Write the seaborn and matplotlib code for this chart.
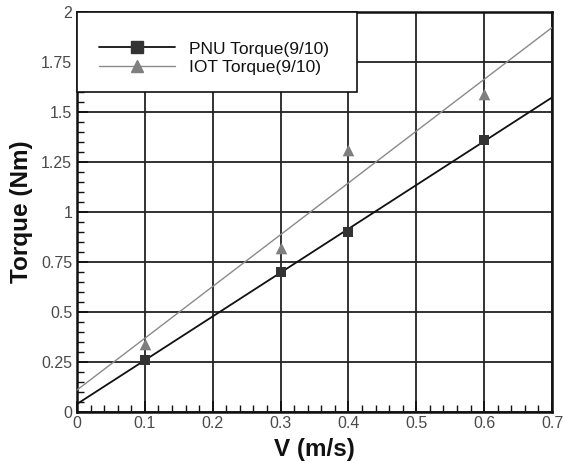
import numpy as np
import pandas as pd
import matplotlib
matplotlib.use("Agg")
import matplotlib.pyplot as plt
import seaborn as sns
from matplotlib.ticker import MultipleLocator, FuncFormatter
from matplotlib.patches import Rectangle

velocity = [0.1, 0.3, 0.4, 0.6]
pnu_torque = [0.26, 0.70, 0.90, 1.36]
iot_torque = [0.34, 0.82, 1.31, 1.59]
series_names = ["PNU Torque(9/10)", "IOT Torque(9/10)"]

sns.set_theme(style="white")
plt.rcParams['font.family'] = ['Liberation Sans', 'DejaVu Sans']

fig = plt.figure(figsize=(5.63, 4.63), dpi=100)
ax = fig.add_axes([0.1368, 0.1112, 0.8437, 0.8628])

df = pd.DataFrame({"V": velocity * 2,
                   "Torque": pnu_torque + iot_torque,
                   "Series": [series_names[0]] * 4 + [series_names[1]] * 4})

styles = {series_names[0]: dict(mc="#333333", lc="#111111", lw=1.3, m="s", ms=55),
          series_names[1]: dict(mc="#7f7f7f", lc="#8a8a8a", lw=1.0, m="^", ms=70)}

xs = np.array([0.0, 0.7])
handles = []
for name in series_names:
    sub = df[df["Series"] == name]
    st = styles[name]
    k, b = np.polyfit(sub["V"].to_numpy(), sub["Torque"].to_numpy(), 1)
    sns.lineplot(x=xs, y=k * xs + b, ax=ax, color=st["lc"], lw=st["lw"], zorder=3)
    sns.scatterplot(data=sub, x="V", y="Torque", ax=ax, marker=st["m"], s=st["ms"],
                    color=st["mc"], edgecolor=st["mc"], linewidth=0, zorder=4)
    h, = ax.plot([], [], color=st["lc"], lw=st["lw"], marker=st["m"],
                 markersize=8 if st["m"] == "s" else 9, markerfacecolor=st["mc"],
                 markeredgecolor=st["mc"], label=name)
    handles.append(h)

ax.set_xlim(0, 0.7)
ax.set_ylim(0, 2)
ax.xaxis.set_major_locator(MultipleLocator(0.1))
ax.xaxis.set_minor_locator(MultipleLocator(0.02))
ax.yaxis.set_major_locator(MultipleLocator(0.25))
ax.yaxis.set_minor_locator(MultipleLocator(0.05))
fmt = FuncFormatter(lambda v, p: f"{v:g}")
ax.xaxis.set_major_formatter(fmt)
ax.yaxis.set_major_formatter(fmt)
ax.grid(True, which="major", color="#222222", lw=1.3)
ax.set_axisbelow(True)
ax.tick_params(which="both", direction="in", bottom=True, left=True,
               colors="#111111", labelcolor="#4a4a4a", labelsize=11.5)
ax.tick_params(which="major", length=8, width=1.3)
ax.tick_params(which="minor", length=5, width=1.0)
for s in ax.spines.values():
    s.set_color("#111111")
    s.set_linewidth(1.8)

ax.set_xlabel("V (m/s)", fontsize=17.5, fontweight="bold", color="#111111", labelpad=5)
ax.set_ylabel("Torque (Nm)", fontsize=17.5, fontweight="bold", color="#111111", labelpad=6)
if ax.get_legend():
    ax.get_legend().remove()

box = Rectangle((0.0, 0.7997), 0.5895, 0.2003, transform=ax.transAxes,
                facecolor="white", edgecolor="#111111", lw=1.2, zorder=9,
                clip_on=False)
ax.add_patch(box)

leg = ax.legend(handles=handles, loc="upper left", bbox_to_anchor=(0.0463, 0.9265),
                bbox_transform=ax.transAxes, frameon=False, fontsize=12.5,
                handlelength=4.38, borderpad=0, labelspacing=0.2, borderaxespad=0,
                handletextpad=0.8)
leg.set_zorder(10)
for t in leg.get_texts():
    t.set_color("#111111")

fig.savefig("out.png", dpi=100)
